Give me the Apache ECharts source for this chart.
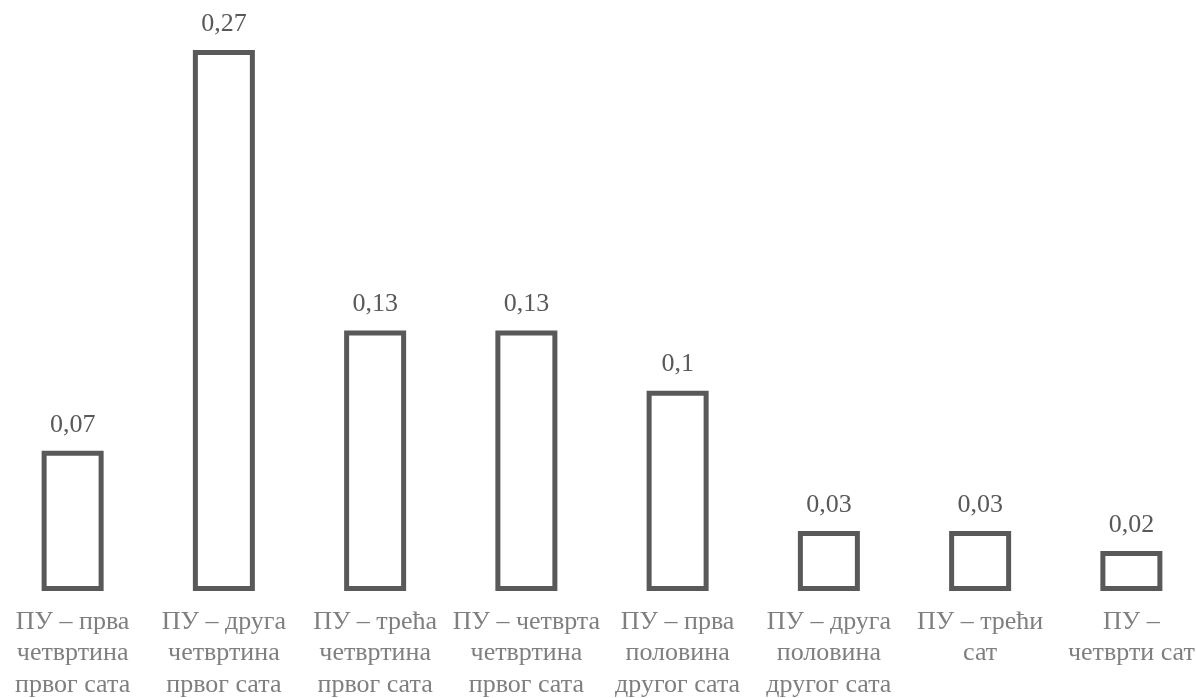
<!DOCTYPE html>
<html><head><meta charset="utf-8">
<script src="https://cdn.jsdelivr.net/npm/echarts@6/dist/echarts.min.js"></script>
<style>html,body{margin:0;padding:0;background:#fff}#c{width:1196px;height:698px}</style>
</head><body><div id="c"></div>
<script>
const categories = [
  "ПУ – прва\nчетвртина\nпрвог сата",
  "ПУ – друга\nчетвртина\nпрвог сата",
  "ПУ – трећа\nчетвртина\nпрвог сата",
  "ПУ – четврта\nчетвртина\nпрвог сата",
  "ПУ – прва\nполовина\nдругог сата",
  "ПУ – друга\nполовина\nдругог сата",
  "ПУ – трећи\nсат",
  "ПУ –\nчетврти сат"
];
const values = [0.07, 0.27, 0.13, 0.13, 0.1, 0.03, 0.03, 0.02];

const serif = "'Liberation Serif', 'Times New Roman', serif";
const chart = echarts.init(document.getElementById('c'));
chart.setOption({
  animation: false,
  grid: { left: -3, right: -11, top: 50, bottom: 107, containLabel: false, outerBoundsMode: 'none' },
  xAxis: {
    type: 'category', data: categories,
    axisLine: { show: false }, axisTick: { show: false },
    axisLabel: { interval: 0, color: '#7f7f7f', fontFamily: serif, fontSize: 26, lineHeight: 31.5, margin: 15, verticalAlign: 'top' }
  },
  yAxis: { type: 'value', min: 0, max: 0.27, show: false, splitLine: { show: false } },
  series: [{
    type: 'bar', data: values, barWidth: 62,
    itemStyle: { color: '#ffffff', borderColor: '#595959', borderWidth: 5 },
    label: {
      show: true, position: 'top', distance: 13, color: '#595959',
      fontFamily: serif, fontSize: 26,
      formatter: p => String(p.value).replace('.', ',')
    }
  }]
});
</script></body></html>
